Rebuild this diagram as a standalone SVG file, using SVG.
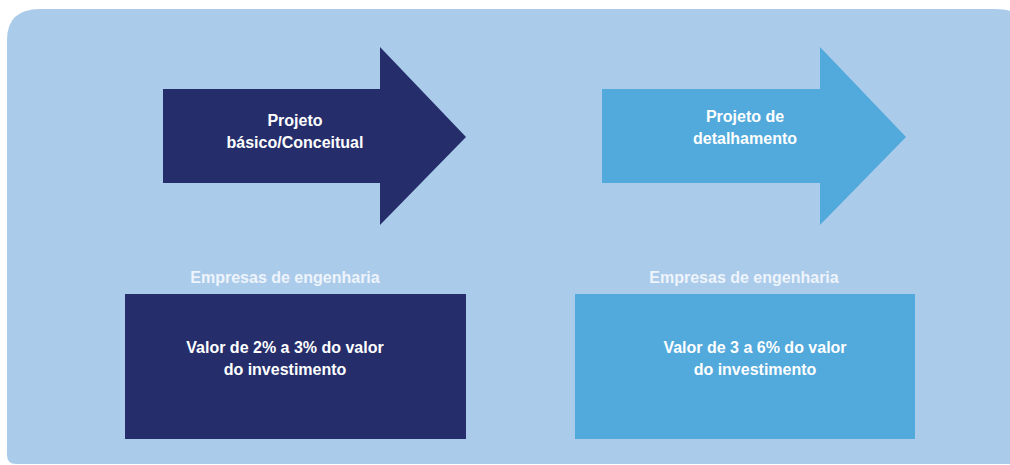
<svg xmlns="http://www.w3.org/2000/svg" width="1010" height="465" viewBox="0 0 1010 465">
<style>
.t{font-family:"Liberation Sans",Arial,sans-serif;font-weight:bold;font-size:16px;fill:#ffffff;text-anchor:middle}
.h{fill:#eef4fb}
.dark{fill:#252e6b}
.light{fill:#51a9dc}
</style>
<rect width="1010" height="465" fill="#ffffff"/>
<path d="M7,40 Q7,9 40,9 L995,9 Q1010,9 1016,14 L1016,464 L16,464 Q7,464 7,455 Z" fill="#abcbea"/>
<g id="arrow1">
<polygon class="dark" points="163,89 380,89 380,47 466,137 380,225 380,183 163,183"/>
<text class="t" x="295" y="126">Projeto</text>
<text class="t" x="295" y="148">básico/Conceitual</text>
</g>
<g id="arrow2">
<polygon class="light" points="602,89 820,89 820,47 906,137 820,225 820,183 602,183"/>
<text class="t" x="745" y="122">Projeto de</text>
<text class="t" x="745" y="144">detalhamento</text>
</g>
<g id="box1">
<text class="t h" x="285" y="283">Empresas de engenharia</text>
<rect class="dark" x="125" y="294" width="341" height="145"/>
<text class="t" x="285" y="353">Valor de 2% a 3% do valor</text>
<text class="t" x="285" y="375">do investimento</text>
</g>
<g id="box2">
<text class="t h" x="744" y="283">Empresas de engenharia</text>
<rect class="light" x="575" y="294" width="340" height="145"/>
<text class="t" x="755" y="353">Valor de 3 a 6% do valor</text>
<text class="t" x="755" y="375">do investimento</text>
</g>
<g id="connectors"/>
</svg>
